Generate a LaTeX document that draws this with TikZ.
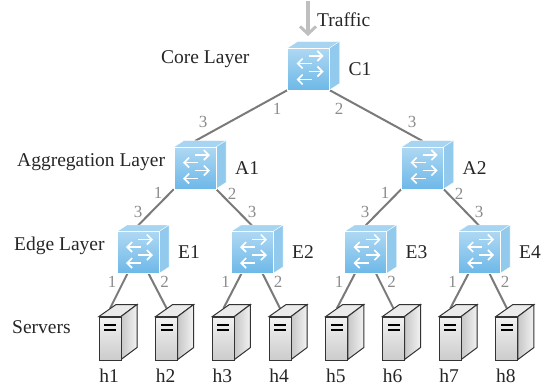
\documentclass[tikz,border=0pt]{standalone}
\usepackage{fontspec}
\setmainfont{Liberation Serif}
\usetikzlibrary{arrows.meta,backgrounds,calc}
\tikzset{
  x=1pt,y=-1pt,
  lbl/.style={font=\fontsize{19.5}{21}\selectfont,text=black!85,inner sep=0pt},
  port/.style={font=\fontsize{17}{18}\selectfont,text=black!45,inner sep=0pt},
  link/.style={draw=black!52,line width=2pt},
  swfront/.style={minimum size=42pt,inner sep=0pt,draw=white,line width=.4pt,top color=sky!55,bottom color=sky},
  srvfront/.style={minimum width=22pt,minimum height=43pt,inner sep=0pt,draw=black!80,line width=1pt,top color=black!5,bottom color=black!20},
  swarrow/.style={draw=white,line width=1.6pt,-{Straight Barb[length=5pt,width=10pt]}},
}
\definecolor{sky}{HTML}{6DB8E8}
\newcommand{\swnode}[4]{%
  \fill[sky!60] (#2-21,#3-21) -- (#2-11,#3-27.5) -- (#2+31,#3-27.5) -- (#2+21,#3-21) -- cycle;
  \fill[sky!75] (#2+21,#3-21) -- (#2+31,#3-27.5) -- (#2+31,#3+14.5) -- (#2+21,#3+21) -- cycle;
  \draw[white,line width=.4pt] (#2-21,#3-21) -- (#2-11,#3-27.5) -- (#2+31,#3-27.5) -- (#2+31,#3+14.5) -- (#2+21,#3+21) (#2+21,#3-21) -- (#2+31,#3-27.5);
  \node[swfront] (#1) at (#2,#3) {};
  \coordinate (#1top) at (#2,#3-27);
  \coordinate (#1l) at (#2-10.5,#3+21);
  \coordinate (#1r) at (#2+10.5,#3+21);
  \draw[swarrow] (#2,#3-13) -- (#2+15,#3-13);
  \draw[swarrow] (#2+3,#3-5.5) -- (#2-12,#3-5.5);
  \draw[swarrow] (#2,#3+2.5) -- (#2+15,#3+2.5);
  \draw[swarrow] (#2+3,#3+10.5) -- (#2-12,#3+10.5);
  \node[lbl,anchor=west] (#1t) at (#2+40,#3) {#4};
}
\newcommand{\srvnode}[3]{%
  \coordinate (#1top) at (#2,#3-30);
  \filldraw[draw=black!80,line width=1pt,fill=black!8] (#2-11,#3-22) -- (#2+6,#3-34) -- (#2+27,#3-34) -- (#2+11,#3-22) -- cycle;
  \filldraw[draw=black!80,line width=1pt,left color=black!22,right color=black!5] (#2+11,#3-22) -- (#2+27,#3-34) -- (#2+27,#3+9) -- (#2+11,#3+21) -- cycle;
  \node[srvfront] (#1) at (#2,#3) {};
  \fill[black] (#2-6,#3-15) rectangle (#2+6,#3-12.5);
  \fill[black] (#2-6,#3-10) rectangle (#2+6,#3-7.5);
  \node[lbl,anchor=center] (#1t) at (#2-1,#3+37) {#1};
}
\begin{document}
\begin{tikzpicture}
\useasboundingbox (0,0) rectangle (545,389);
\swnode{C1}{308.5}{69}{C1}
\swnode{A1}{195}{168}{A1}
\swnode{A2}{422.5}{168}{A2}
\swnode{E1}{138}{252.5}{E1}
\swnode{E2}{252}{252.5}{E2}
\swnode{E3}{365.5}{252.5}{E3}
\swnode{E4}{479}{252.5}{E4}
\srvnode{h1}{110}{338.5}
\srvnode{h2}{166.7}{338.5}
\srvnode{h3}{223.4}{338.5}
\srvnode{h4}{280.1}{338.5}
\srvnode{h5}{336.8}{338.5}
\srvnode{h6}{393.5}{338.5}
\srvnode{h7}{450.2}{338.5}
\srvnode{h8}{506.9}{338.5}
\begin{scope}[on background layer]
\draw[link] (C1.south west) -- (A1top);
\draw[link] (C1.south east) -- (A2top);
\draw[link] (A1.south west) -- (E1top);
\draw[link] (A1.south east) -- (E2top);
\draw[link] (A2.south west) -- (E3top);
\draw[link] (A2.south east) -- (E4top);
\draw[link] (E1l) -- (h1top);
\draw[link] (E1r) -- (h2top);
\draw[link] (E2l) -- (h3top);
\draw[link] (E2r) -- (h4top);
\draw[link] (E3l) -- (h5top);
\draw[link] (E3r) -- (h6top);
\draw[link] (E4l) -- (h7top);
\draw[link] (E4r) -- (h8top);
\end{scope}
\coordinate (trafficstart) at (308,1);
\coordinate (trafficend) at (308,36);
\draw[draw=black!25,line width=4pt,-{Straight Barb[length=7.5pt,width=16pt,line width=3pt]}] (trafficstart) -- (trafficend);
\node[lbl,anchor=west] (traffic) at (317,20) {Traffic};
\node[lbl,anchor=west] (core) at (161,59) {Core Layer};
\node[lbl,anchor=west] (agg) at (17,162) {Aggregation Layer};
\node[lbl,anchor=west] (edge) at (14,246) {Edge Layer};
\node[lbl,anchor=west] (srv) at (12,327) {Servers};
\foreach \n/\x/\y/\t in {a/277/109/1,b/339/109/2,c/203/122/3,d/412/122/3,
 e/158/193/1,f/232/194/2,g/138/212/3,h/252/212/3,i/385/193/1,j/459/194/2,k/365/212/3,l/479/212/3}
  \node[port] (p\n) at (\x,\y) {\t};
\foreach \i/\x in {0/0,1/113.5,2/227,3/340.5}{
  \node[port] (q\i a) at (112+\x,282) {1};
  \node[port] (q\i b) at (164.5+\x,282) {2};
}
\end{tikzpicture}
\end{document}
